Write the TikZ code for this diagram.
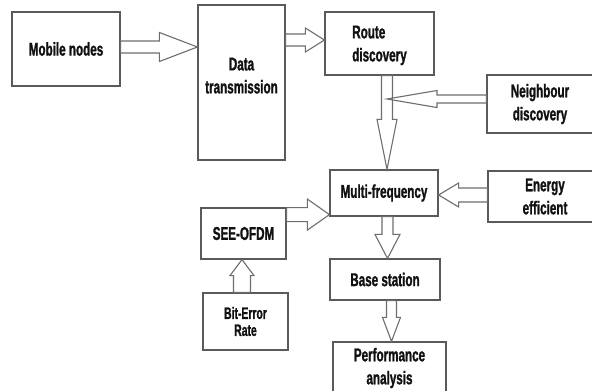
\documentclass[tikz,border=0pt]{standalone}
\usepackage{fontspec}
\setmainfont{Liberation Sans}[FakeStretch=0.63, BoldFeatures={FakeBold=1.2}]
\usetikzlibrary{calc}
\definecolor{boxgray}{HTML}{5A5A5A}
\definecolor{arrgray}{HTML}{6E6E6E}
\definecolor{txt}{HTML}{111111}
\tikzset{
  box/.style={draw=boxgray, line width=1.2pt, inner sep=0pt, text=txt,
    font=\bfseries\fontsize{18.5}{23}\selectfont, align=center},
  smallbox/.style={box, font=\bfseries\fontsize{16.5}{17}\selectfont},
  arrowline/.style={draw=arrgray, line width=1.1pt, line join=miter}
}
\newcommand\blockarrow[5]{%
  \coordinate (ba-hb) at ($(#2)!#5pt!(#1)$);
  \draw[arrowline] ($(#1)!#3pt!90:(#2)$) -- ($(ba-hb)!#3pt!90:(#2)$)
    -- ($(ba-hb)!#4pt!90:(#2)$) -- (#2) -- ($(ba-hb)!#4pt!-90:(#2)$)
    -- ($(ba-hb)!#3pt!-90:(#2)$) -- ($(#1)!#3pt!-90:(#2)$) -- cycle;}
\begin{document}
\begin{tikzpicture}[x=1pt,y=-1pt]
\useasboundingbox (0,0) rectangle (592,391);
\clip (0,0) rectangle (592,391);
\fill[white] (0,0) rectangle (592,391);
% nodes
\node[box, minimum width=108pt, minimum height=74pt] (mobile) at (66,49) {Mobile nodes};
\node[box, minimum width=87pt, minimum height=155pt, text depth=14pt] (data) at (241.5,82.5) {Data\\transmission};
\node[box, minimum width=109pt, minimum height=63pt, align=left, text depth=-5pt] (route) at (379.5,43.5) {Route\\discovery};
\node[box, minimum width=106pt, minimum height=58pt] (neigh) at (540,104) {Neighbour\\discovery};
\node[box, minimum width=108pt, minimum height=46pt] (multi) at (384,193) {Multi-frequency};
\node[box, minimum width=114pt, minimum height=51pt] (energy) at (545,196.5) {Energy\\efficient};
\node[box, minimum width=85pt, minimum height=51pt] (see) at (243.5,233.5) {SEE-OFDM};
\node[box, minimum width=110pt, minimum height=41pt] (base) at (385,279.5) {Base station};
\node[smallbox, minimum width=85pt, minimum height=57pt] (ber) at (245.5,321.5) {Bit-Error\\Rate};
\node[box, minimum width=113pt, minimum height=52pt] (perf) at (389.5,368) {Performance\\analysis};
% connectors
\coordinate (a1s) at ($(mobile.east)+(0,-2)$);
\coordinate (a1e) at (data.west |- a1s);
\blockarrow{a1s}{a1e}{6}{14.5}{38}
\coordinate (a2e) at ($(route.west)+(0,-3.5)$);
\coordinate (a2s) at (data.east |- a2e);
\blockarrow{a2s}{a2e}{6}{12}{19}
\coordinate (a3s) at ($(route.south)+(7.5,0)$);
\coordinate (a3e) at (multi.north -| a3s);
\blockarrow{a3s}{a3e}{5.5}{10}{50}
\coordinate (a4s) at ($(neigh.west)+(0,-5)$);
\coordinate (a4e) at (a3s |- a4s);
\blockarrow{a4s}{a4e}{4}{8.5}{50}
\coordinate (a5s) at ($(energy.west)+(0,-1.5)$);
\coordinate (a5e) at (multi.east |- a5s);
\blockarrow{a5s}{a5e}{7}{12}{20}
\coordinate (a6e) at ($(multi.south west)+(0,-2)$);
\coordinate (a6s) at (see.east |- a6e);
\blockarrow{a6s}{a6e}{7}{15.5}{22}
\coordinate (a7s) at ($(multi.south)+(3.5,0)$);
\coordinate (a7e) at (base.north -| a7s);
\blockarrow{a7s}{a7e}{5.5}{12.5}{24}
\coordinate (a8s) at ($(ber.north)+(-3.5,0)$);
\coordinate (a8e) at (see.south -| a8s);
\blockarrow{a8s}{a8e}{8.5}{12}{16}
\coordinate (a9s) at ($(base.south)+(6.5,0)$);
\coordinate (a9e) at (perf.north -| a9s);
\blockarrow{a9s}{a9e}{5}{9}{24}
\end{tikzpicture}
\end{document}
